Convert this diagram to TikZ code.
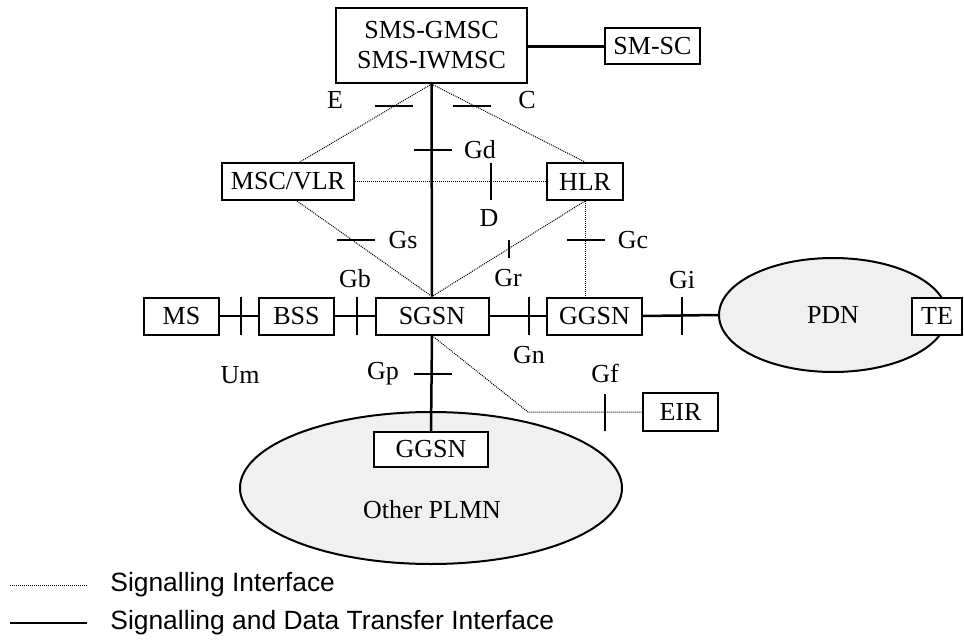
\documentclass[tikz,border=0pt]{standalone}
\usepackage{fontspec}
\setmainfont{Liberation Serif}
\setsansfont{Liberation Sans}
\usetikzlibrary{shapes.geometric}
\definecolor{cloudgray}{gray}{0.94}
\tikzset{
  box/.style={draw, line width=1pt, fill=white, inner sep=0pt, minimum height=18.5pt, font=\fontsize{13}{15}\selectfont},
  net/.style={draw, ellipse, line width=1pt, fill=cloudgray, inner sep=0pt, font=\fontsize{13}{15}\selectfont},
  lbl/.style={inner sep=0pt, font=\fontsize{13}{15}\selectfont},
  legend/.style={inner sep=0pt, anchor=west, font=\sffamily\fontsize{13.2}{15}\selectfont},
  sig/.style={line width=0.5pt, dash pattern=on 0.5pt off 0.5pt},
  dat/.style={line width=1.25pt},
  tick/.style={line width=1.25pt},
}
\begin{document}
\begin{tikzpicture}[x=0.5pt, y=-0.5pt]
  \useasboundingbox (0,0) rectangle (964,642);
  % networks
  \node[net, minimum width=114pt, minimum height=57pt] (pdn) at (833,315) {PDN};
  \node[net, minimum width=191pt, minimum height=76pt] (plmn) at (431,488) {};
  \node[lbl] (plmntxt) at (432,510) {Other PLMN};
  % boxes
  \node[box, minimum width=95.5pt, minimum height=37.5pt, align=center] (smsc) at (431.5,45.5) {SMS-GMSC\\SMS-IWMSC};
  \node[box, minimum width=47.5pt, minimum height=18pt] (smc) at (652.5,46.5) {SM-SC};
  \node[box, minimum width=66pt] (msc) at (288,181.5) {MSC/VLR};
  \node[box, minimum width=38pt] (hlr) at (585,181.5) {HLR};
  \node[box, minimum width=37.5pt] (ms) at (181.5,316) {MS};
  \node[box, minimum width=37.5pt] (bss) at (296.5,316) {BSS};
  \node[box, minimum width=56.5pt] (sgsn) at (432,316) {SGSN};
  \node[box, minimum width=47.5pt] (ggsn) at (594.5,316) {GGSN};
  \node[box, minimum width=25pt] (te) at (937,316) {TE};
  \node[box, minimum width=37.5pt, minimum height=19pt] (eir) at (680.5,412) {EIR};
  \node[box, minimum width=57pt, minimum height=17.5pt] (ggsnb) at (431,449.5) {GGSN};
  \coordinate (eirbend) at (528,412);
  % interface names
  \node[lbl] (e) at (335,100) {E};
  \node[lbl] (c) at (527,100) {C};
  \node[lbl] (gd) at (480,150) {Gd};
  \node[lbl] (d) at (489,218) {D};
  \node[lbl] (gs) at (403,240) {Gs};
  \node[lbl] (gr) at (508,278) {Gr};
  \node[lbl] (gc) at (633,240) {Gc};
  \node[lbl] (gb) at (355,279) {Gb};
  \node[lbl] (gi) at (682,280) {Gi};
  \node[lbl] (gn) at (529,355) {Gn};
  \node[lbl] (um) at (240,375) {Um};
  \node[lbl] (gp) at (383,374) {Gp};
  \node[lbl] (gf) at (605,373) {Gf};
  % signalling
  \begin{scope}[sig]
    \draw (smsc.south) to ([xshift=6pt]msc.north);
    \draw (smsc.south) to (hlr.north);
    \draw (msc.east) to (hlr.west);
    \draw ([xshift=4.5pt]msc.south) to (sgsn.north);
    \draw (hlr.south) to (sgsn.north);
    \draw (hlr.south) to (hlr.south |- ggsn.north);
    \draw (sgsn.south) -- (eirbend) -- (eir.west);
  \end{scope}
  % signalling and data
  \begin{scope}[dat]
    \draw (smsc.east |- smc.west) to (smc.west);
    \draw (smsc.south) to (sgsn.north);
    \draw (ms) to (bss);
    \draw (bss) to (sgsn);
    \draw (sgsn) to (ggsn);
    \draw (ggsn.east) to (pdn.west);
    \draw (sgsn.south) to (ggsnb.north);
  \end{scope}
  % ticks
  \foreach \x/\y in {394/106, 471.5/106, 433/150, 356/240, 586/240, 432.5/374}
    \draw[tick] (\x-19,\y) -- (\x+19,\y);
  \foreach \x/\y/\h in {491/181.5/18.5, 509/249/9, 241/316/19, 357/316/19, 529/316/19, 682/316/19, 605/412.5/18.5}
    \draw[tick] (\x,\y-\h) -- (\x,\y+\h);
  % legend
  \coordinate (siga) at (10,585);
  \coordinate (sigb) at (87,585);
  \coordinate (data) at (10,623);
  \coordinate (datb) at (87,623);
  \draw[sig] (siga) -- (sigb);
  \draw[dat] (data) -- (datb);
  \node[legend] (sigtxt) at (110,585) {Signalling Interface};
  \node[legend] (dattxt) at (110,623) {Signalling and Data Transfer Interface};
\end{tikzpicture}
\end{document}
